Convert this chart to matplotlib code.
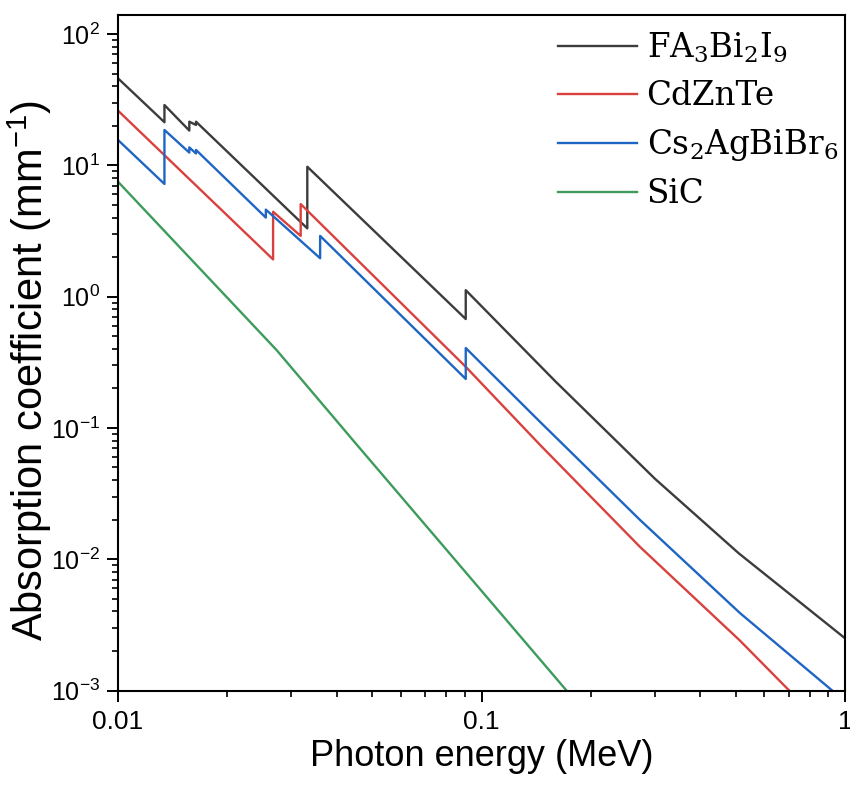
import matplotlib
matplotlib.use("Agg")
import matplotlib.pyplot as plt
from matplotlib.ticker import LogLocator, FixedLocator, FixedFormatter, NullFormatter

# photon energy (MeV) and absorption coefficient (mm^-1), edges as repeated x
energy_fa = [0.010, 0.01342, 0.01342, 0.01571, 0.01571, 0.01639, 0.01639,
             0.03317, 0.03317, 0.0905, 0.0905, 0.16, 0.30, 0.51, 1.0]
mu_fa = [46, 21.3, 28.8, 18.4, 21.5, 20.3, 21.5,
         3.31, 9.76, 0.675, 1.12, 0.225, 0.041, 0.0111, 0.0025]

energy_cz = [0.010, 0.02671, 0.02671, 0.03181, 0.03181, 0.0905, 0.145, 0.273, 0.514, 0.702]
mu_cz = [26.1, 1.92, 4.43, 2.90, 5.07, 0.292, 0.0741, 0.0124, 0.0024, 0.001]

energy_cs = [0.010, 0.01342, 0.01342, 0.01571, 0.01571, 0.01639, 0.01639,
             0.02551, 0.02551, 0.03598, 0.03598, 0.0905, 0.0905, 0.145, 0.273, 0.514, 0.922]
mu_cs = [15.6, 7.21, 18.6, 12.5, 13.7, 12.3, 13.1,
         4.0, 4.6, 1.96, 2.90, 0.236, 0.406, 0.111, 0.0199, 0.00389, 0.001]

energy_sic = [0.010, 0.0273, 0.045, 0.0785, 0.1713]
mu_sic = [7.5, 0.392, 0.0766, 0.0126, 0.001]

labels = [r'FA$_3$Bi$_2$I$_9$', 'CdZnTe', r'Cs$_2$AgBiBr$_6$', 'SiC']
colors = ['#3c3c3c', '#d9413f', '#1f66c4', '#3d9b5c']

x_ticks = [0.01, 0.1, 1]
x_ticklabels = ['0.01', '0.1', '1']

plt.rcParams['font.family'] = ['Liberation Sans', 'DejaVu Sans']
plt.rcParams['mathtext.fontset'] = 'dejavuserif'

fig = plt.figure(figsize=(8.5, 7.87), dpi=100)
ax = fig.add_axes([118 / 850, (787 - 690.5) / 787, (845 - 118) / 850, (690.5 - 15) / 787])

series = [(energy_fa, mu_fa), (energy_cz, mu_cz), (energy_cs, mu_cs), (energy_sic, mu_sic)]
for (e, m), lab, c in zip(series, labels, colors):
    ax.plot(e, m, color=c, lw=1.7, label=lab)

ax.set_xscale('log')
ax.set_yscale('log')
ax.set_xlim(0.01, 1)
ax.set_ylim(1e-3, 10 ** 2.145)

ax.xaxis.set_major_locator(FixedLocator(x_ticks))
ax.xaxis.set_major_formatter(FixedFormatter(x_ticklabels))
ax.xaxis.set_minor_locator(LogLocator(base=10, subs=range(2, 10)))
ax.xaxis.set_minor_formatter(NullFormatter())
ax.yaxis.set_major_locator(LogLocator(base=10, numticks=10))
ax.yaxis.set_minor_locator(LogLocator(base=10, subs=range(2, 10), numticks=20))
ax.yaxis.set_minor_formatter(NullFormatter())

for s in ax.spines.values():
    s.set_linewidth(1.5)
ax.tick_params(which='major', direction='out', length=8, width=1.4, labelsize=18, pad=5)
ax.tick_params(which='minor', direction='out', length=4.5, width=1.2)
ax.tick_params(axis='x', which='major', labelsize=19, pad=6)

ax.set_xlabel('Photon energy (MeV)', fontsize=26, labelpad=4)
ax.set_ylabel('Absorption coefficient (mm$^{\\mathdefault{-1}}$)', fontsize=30, va='center')
ax.yaxis.set_label_coords(-0.121, 0.474)

leg = ax.legend(loc='upper left', bbox_to_anchor=(0.605, 0.977), frameon=False,
                prop={'family': 'DejaVu Serif', 'size': 23.5}, handlelength=2.42,
                handletextpad=0.3, labelspacing=0.46, borderpad=0, borderaxespad=0)

fig.savefig('out.png', dpi=100)
